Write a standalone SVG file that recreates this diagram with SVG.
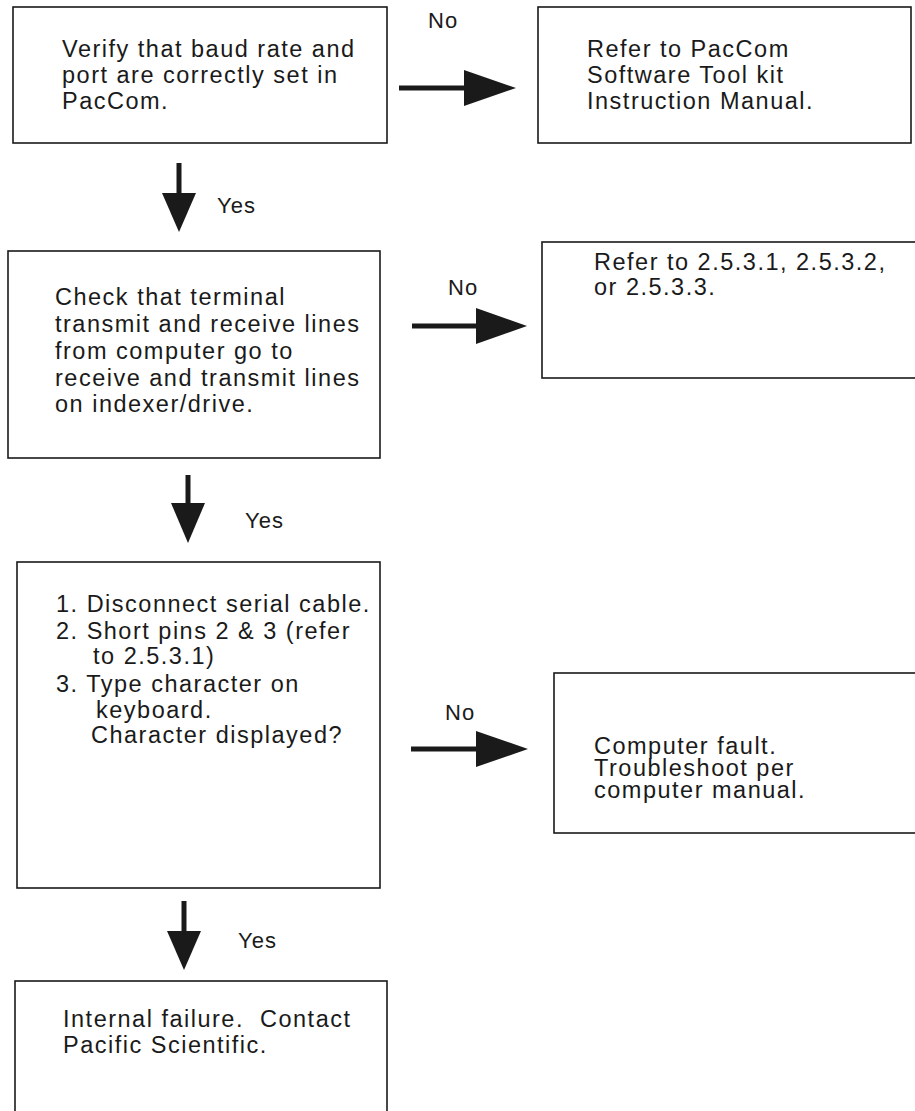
<svg xmlns="http://www.w3.org/2000/svg" width="915" height="1111" viewBox="0 0 915 1111">
<style>
.box{fill:#fff;stroke:#1a1a1a;stroke-width:1.6}
.t{font-family:"Liberation Sans",Arial,Helvetica,sans-serif;font-size:23.5px;letter-spacing:1.5px;fill:#1a1a1a}
.lbl{font-family:"Liberation Sans",Arial,Helvetica,sans-serif;font-size:22px;letter-spacing:1px;fill:#1a1a1a}
.ln{stroke:#1a1a1a;stroke-width:5;fill:none}
.hd{fill:#1a1a1a;stroke:none}
</style>
<rect width="915" height="1111" fill="#fff"/>
<g id="n1">
<rect class="box" x="13" y="7" width="374" height="136"/>
<text class="t"><tspan x="62" y="57">Verify that baud rate and</tspan><tspan x="62" y="83">port are correctly set in</tspan><tspan x="62" y="109">PacCom.</tspan></text>
</g>
<g id="n2">
<rect class="box" x="538" y="7" width="373" height="136"/>
<text class="t"><tspan x="587" y="57">Refer to PacCom</tspan><tspan x="587" y="83">Software Tool kit</tspan><tspan x="587" y="109">Instruction Manual.</tspan></text>
</g>
<g id="n3">
<rect class="box" x="8" y="251" width="372" height="207"/>
<text class="t"><tspan x="55" y="305">Check that terminal</tspan><tspan x="55" y="332">transmit and receive lines</tspan><tspan x="55" y="359">from computer go to</tspan><tspan x="55" y="386">receive and transmit lines</tspan><tspan x="55" y="412">on indexer/drive.</tspan></text>
</g>
<g id="n4">
<rect class="box" x="542" y="242" width="383" height="136"/>
<text class="t"><tspan x="594" y="270">Refer to 2.5.3.1, 2.5.3.2,</tspan><tspan x="594" y="295">or 2.5.3.3.</tspan></text>
</g>
<g id="n5">
<rect class="box" x="17" y="562" width="363" height="326"/>
<text class="t"><tspan x="56" y="612">1. Disconnect serial cable.</tspan><tspan x="56" y="639">2. Short pins 2 &amp; 3 (refer</tspan><tspan x="93" y="664">to 2.5.3.1)</tspan><tspan x="56" y="692">3. Type character on</tspan><tspan x="96" y="718">keyboard.</tspan><tspan x="91" y="743">Character displayed?</tspan></text>
</g>
<g id="n6">
<rect class="box" x="554" y="673" width="371" height="160"/>
<text class="t"><tspan x="594" y="754">Computer fault.</tspan><tspan x="594" y="776">Troubleshoot per</tspan><tspan x="594" y="798">computer manual.</tspan></text>
</g>
<g id="n7">
<rect class="box" x="15" y="981" width="372" height="140"/>
<text class="t"><tspan x="63" y="1027">Internal failure.&#160; Contact</tspan><tspan x="63" y="1053">Pacific Scientific.</tspan></text>
</g>
<g id="connectors">
<line class="ln" x1="399" y1="88" x2="470" y2="88"/>
<polygon class="hd" points="464,70 516,88 464,106"/>
<text class="lbl" x="428" y="28">No</text>
<line class="ln" x1="179" y1="163" x2="179" y2="200"/>
<polygon class="hd" points="162,193 179,232 196,193"/>
<text class="lbl" x="217" y="213">Yes</text>
<line class="ln" x1="412" y1="326" x2="482" y2="326"/>
<polygon class="hd" points="476,308 527,326 476,344"/>
<text class="lbl" x="448" y="295">No</text>
<line class="ln" x1="188" y1="475" x2="188" y2="510"/>
<polygon class="hd" points="171,503 188,543 205,503"/>
<text class="lbl" x="245" y="528">Yes</text>
<line class="ln" x1="411" y1="749" x2="482" y2="749"/>
<polygon class="hd" points="476,731 528,749 476,767"/>
<text class="lbl" x="445" y="720">No</text>
<line class="ln" x1="184" y1="901" x2="184" y2="940"/>
<polygon class="hd" points="167,931 184,970 201,931"/>
<text class="lbl" x="238" y="948">Yes</text>
</g>
</svg>
